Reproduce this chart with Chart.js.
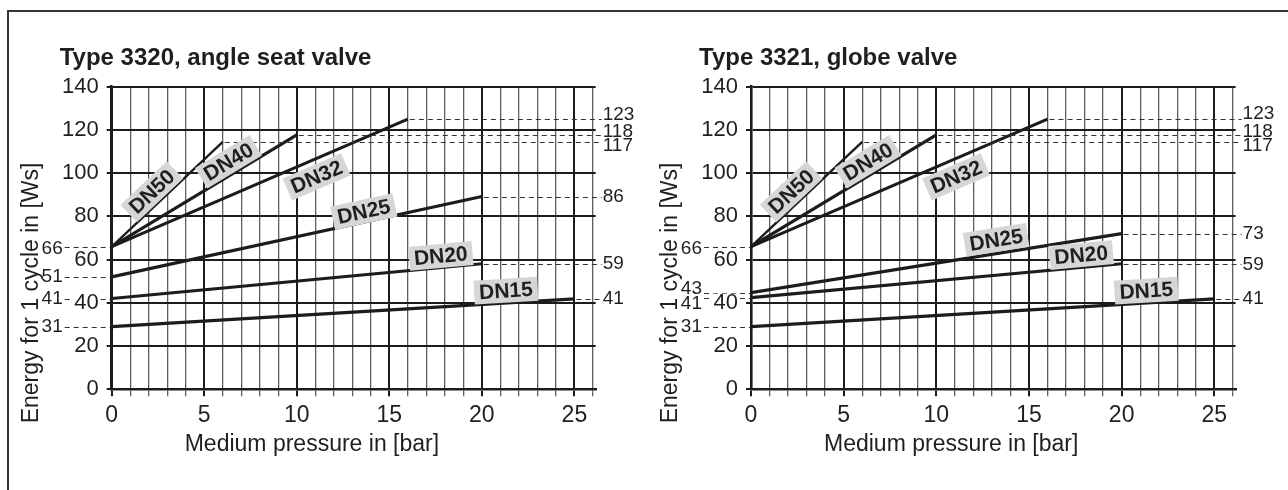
<!DOCTYPE html>
<html>
<head>
<meta charset="utf-8">
<script src="https://cdn.jsdelivr.net/npm/chart.js@4.4.1/dist/chart.umd.min.js"></script>
<style>
  html, body { margin: 0; padding: 0; background: #fff; }
  #wrap { position: relative; width: 1288px; height: 490px; overflow: hidden; }
  #frame { position: absolute; left: 7px; top: 10px; width: 1320px; height: 520px;
           border-top: 2px solid #333; border-left: 2px solid #333; }
  canvas { position: absolute; top: 0; }
  #c1 { left: 0; }
  #c2 { left: 640px; }
</style>
</head>
<body>
<div id="wrap">
  <div id="frame"></div>
  <canvas id="c1" width="640" height="490"></canvas>
  <canvas id="c2" width="648" height="490"></canvas>
</div>
<script>
// nominal sizes, in drawing order
const sizes = ['DN50', 'DN40', 'DN32', 'DN25', 'DN20', 'DN15'];
// medium pressure where each line stops [bar]
const pressEnd = [6, 10, 16, 20, 20, 25];

// Type 3320, angle seat valve - energy [Ws] at 0 bar and at the end pressure
const angleStart = [66, 66, 66, 52, 42, 29];
const angleEnd   = [114.5, 117.7, 125, 89.2, 58.1, 41.8];
const angleStartTxt = ['66', '', '', '51', '41', '31'];
const angleEndTxt   = ['117', '118', '123', '86', '59', '41'];

// Type 3321, globe valve
const globeStart = [66, 66, 66, 44.7, 42.4, 29];
const globeEnd   = [114.5, 117.7, 125, 72, 58.1, 41.8];
const globeStartTxt = ['66', '', '', '43', '41', '31'];
const globeEndTxt   = ['117', '118', '123', '73', '59', '41'];

const xLabeled = [0, 5, 10, 15, 20, 25];
const xGrid = [];
for (let i = 0; i <= 26; i++) xGrid.push(i);

// ---- layout / style (not data) ----
const FONT = '"Liberation Sans", Arial, Helvetica, sans-serif';
const INK = '#1f1f1f';
Chart.defaults.font.family = FONT;

// where the DN tags sit, in axis units [bar, Ws]
const angleTags = [[2.17, 91.4], [6.31, 105.3], [11.07, 98.3], [13.62, 82.2], [17.78, 61.7], [21.3, 45.6]];
const globeTags = [[2.17, 91.4], [6.31, 105.3], [11.07, 98.3], [13.23, 69.1], [17.82, 62.1], [21.33, 45.6]];
// small vertical nudges (px) so the stacked value texts don't collide
const angleEndNudge = [4, -3, -4, 0, 0, 0];
const globeEndNudge = [4, -3, -5, 0, 1, 0];
const angleStartNudge = [2, 0, 0, 0, 0, 0];
const globeStartNudge = [2, 0, 0, -4, 6, 0];

function dashed(ctx, x1, y1, x2, y2) {
  ctx.beginPath();
  ctx.moveTo(x1, y1);
  ctx.lineTo(x2, y2);
  ctx.stroke();
}

const valveNotes = {
  id: 'valveNotes',
  beforeDraw(chart, args, o) {
    const { ctx, chartArea: a } = chart;
    const y = chart.scales.y;
    ctx.save();
    ctx.fillStyle = INK;
    ctx.textBaseline = 'alphabetic';
    ctx.textAlign = 'left';
    ctx.font = 'bold 24px ' + FONT;
    ctx.fillText(o.title, a.left - 52, 65);
    ctx.font = '23px ' + FONT;
    ctx.fillText('Medium pressure in [bar]', a.left + 73, a.bottom + 62);
    ctx.save();
    ctx.translate(a.left - 74, a.bottom + 34);
    ctx.rotate(-Math.PI / 2);
    ctx.fillText('Energy for 1 cycle in [Ws]', 0, 0);
    ctx.restore();

    // leaders from the 0-bar values to the axis
    ctx.setLineDash([5, 4]);
    ctx.lineWidth = 1.2;
    ctx.strokeStyle = '#333';
    o.startTxt.forEach((t, i) => {
      if (!t) return;
      const py = Math.round(y.getPixelForValue(o.start[i])) + 0.5;
      dashed(ctx, a.left - 47, py, a.left, py);
    });
    ctx.restore();
  },
  afterDatasetsDraw(chart, args, o) {
    const { ctx, chartArea: a } = chart;
    const x = chart.scales.x, y = chart.scales.y;
    ctx.save();
    // leaders from the line ends to the right margin
    ctx.setLineDash([5, 4]);
    ctx.lineWidth = 1.2;
    ctx.strokeStyle = '#333';
    o.end.forEach((v, i) => {
      const py = Math.round(y.getPixelForValue(v)) + 0.5;
      dashed(ctx, x.getPixelForValue(pressEnd[i]) + 2, py, a.right + 6, py);
    });
    ctx.setLineDash([]);

    ctx.fillStyle = INK;
    ctx.font = '19px ' + FONT;
    ctx.textBaseline = 'middle';
    ctx.textAlign = 'left';
    o.endTxt.forEach((t, i) => {
      ctx.fillText(t, a.right + 7, y.getPixelForValue(o.end[i]) + o.endNudge[i]);
    });
    ctx.textAlign = 'right';
    o.startTxt.forEach((t, i) => {
      if (!t) return;
      ctx.fillText(t, a.left - 49, y.getPixelForValue(o.start[i]) + o.startNudge[i]);
    });

    // DN tags along the lines
    ctx.font = 'bold 21px ' + FONT;
    ctx.textAlign = 'center';
    sizes.forEach((s, i) => {
      const px = x.getPixelForValue(o.tags[i][0]);
      const py = y.getPixelForValue(o.tags[i][1]);
      const ang = Math.atan2(y.getPixelForValue(o.end[i]) - y.getPixelForValue(o.start[i]),
                             x.getPixelForValue(pressEnd[i]) - x.getPixelForValue(0));
      const w = ctx.measureText(s).width + 10;
      ctx.save();
      ctx.translate(px, py);
      ctx.rotate(ang);
      ctx.fillStyle = '#d6d6d6';
      ctx.fillRect(-w / 2, -12, w, 24);
      ctx.fillStyle = INK;
      ctx.fillText(s, 0, 1);
      ctx.restore();
    });
    ctx.restore();
  }
};

function makeChart(id, title, start, end, startTxt, endTxt, tags, startNudge, endNudge, axisW, padRight) {
  const datasets = sizes.map((s, i) => ({
    label: s,
    data: [{ x: 0, y: start[i] }, { x: pressEnd[i], y: end[i] }],
    borderColor: '#1c1c1c',
    borderWidth: i === 0 ? 2.4 : 3.2,
    pointRadius: 0,
    tension: 0,
    fill: false
  }));
  const major = c => c.tick && c.tick.value % 5 === 0;
  return new Chart(document.getElementById(id), {
    type: 'line',
    data: { datasets },
    options: {
      responsive: false,
      animation: false,
      events: [],
      layout: { padding: { left: 0, top: 86.7, right: padRight, bottom: 0 } },
      plugins: {
        legend: { display: false },
        tooltip: { enabled: false },
        valveNotes: { title, start, end, startTxt, endTxt, tags, startNudge, endNudge }
      },
      scales: {
        x: {
          type: 'linear', min: 0, max: 26.15,
          afterBuildTicks: s => { s.ticks = xGrid.map(v => ({ value: v })); },
          afterFit: s => { s.height = 100.7; },
          grid: {
            color: c => major(c) ? '#1c1c1c' : '#5e5e5e',
            tickColor: c => major(c) ? '#1c1c1c' : '#5e5e5e',
            lineWidth: c => major(c) ? 2 : 1.3,
            tickWidth: c => major(c) ? 2 : 1.3,
            tickLength: 7
          },
          border: { color: '#1c1c1c', width: 2.6 },
          ticks: {
            autoSkip: false, maxRotation: 0, minRotation: 0, padding: 6,
            font: { size: 23 }, color: INK,
            callback: v => xLabeled.includes(v) ? String(v) : ''
          }
        },
        y: {
          min: 0, max: 140,
          afterFit: s => { s.width = axisW; },
          grid: { color: '#1c1c1c', lineWidth: 2, tickLength: 5, tickColor: '#1c1c1c' },
          border: { color: '#1c1c1c', width: 2.6 },
          ticks: {
            stepSize: 20, padding: 8, font: { size: 22 }, color: INK,
            showLabelBackdrop: true, backdropColor: '#fff',
            backdropPadding: { top: -4, bottom: -4, left: 1, right: 1 }
          }
        }
      }
    },
    plugins: [valveNotes]
  });
}

makeChart('c1', 'Type 3320, angle seat valve', angleStart, angleEnd, angleStartTxt, angleEndTxt,
          angleTags, angleStartNudge, angleEndNudge, 111.7, 44.3);
makeChart('c2', 'Type 3321, globe valve', globeStart, globeEnd, globeStartTxt, globeEndTxt,
          globeTags, globeStartNudge, globeEndNudge, 111, 52.4);
</script>
</body>
</html>
